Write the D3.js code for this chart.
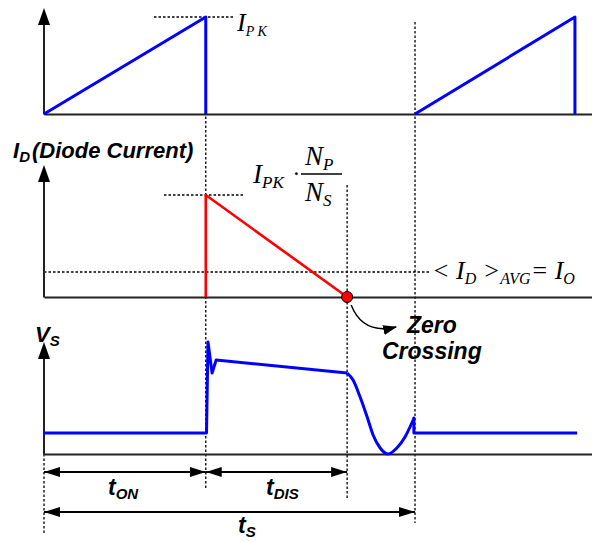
<!DOCTYPE html>
<html>
<head>
<meta charset="utf-8">
<script src="https://cdn.jsdelivr.net/npm/d3@7"></script>
<style>
  body { margin: 0; background: #fff; }
  svg { display: block; }
  .sans { font-family: "Liberation Sans", Arial, sans-serif; font-weight: bold; font-style: italic; }
  .serif { font-family: "Liberation Serif", "Times New Roman", serif; font-style: italic; }
</style>
</head>
<body>
<svg id="chart" width="592" height="542"></svg>
<script>
// time instants, in units where t_S = 10
var tOn = 4.36, tOff = 8.17, tS = 10, tEnd = 14.77;

// primary current (normalised to I_PK), two switching cycles
var ipTime1 = [0, 4.36, 4.36];
var ipVal1 = [0, 1, 0];
var ipTime2 = [10, 14.31, 14.31];
var ipVal2 = [0, 1, 0];

// diode current (normalised to I_PK*Np/Ns) and its average
var idTime = [4.36, 4.36, 8.17];
var idVal = [0, 1, 0];
var idAvg = 0.245;

// switch voltage: off level, turn-off spike and plateau
var vsTime = [0, 4.38, 4.42, 4.53, 4.64, 8.17];
var vsVal = [0.21, 0.21, 1.12, 0.81, 0.94, 0.81];
// ringing after the diode current reaches zero
var ringTime = [8.17, 8.33, 8.52, 8.71, 8.87, 9.06, 9.27, 9.51, 9.73, 9.95];
var ringVal = [0.81, 0.74, 0.57, 0.37, 0.19, 0.06, 0.0, 0.06, 0.17, 0.34];
// next turn-on and following off level
var tailTime = [9.95, 9.97, 9.97, 14.37];
var tailVal = [0.34, 0.36, 0.21, 0.21];

// dimension arrows: [from, to] in time
var dimRow1 = [[0, tOn], [tOn, tOff]];
var dimRow2 = [[0, tS]];

var svg = d3.select("#chart");
svg.append("rect").attr("width", 592).attr("height", 542).attr("fill", "#fff");

var x = d3.scaleLinear().domain([0, tEnd]).range([44, 592]);
var y1 = d3.scaleLinear().domain([0, 1]).range([114, 17]);
var y2 = d3.scaleLinear().domain([0, 1]).range([297, 195]);
var y3 = d3.scaleLinear().domain([0, 1]).range([454, 354]);

function pairs(ts, vs) { return ts.map(function (t, i) { return [t, vs[i]]; }); }

var defs = svg.append("defs");
defs.append("marker")
    .attr("id", "dimArrow")
    .attr("markerUnits", "userSpaceOnUse")
    .attr("markerWidth", 16).attr("markerHeight", 10)
    .attr("refX", 16).attr("refY", 5)
    .attr("orient", "auto-start-reverse")
    .append("path").attr("d", "M0,0L16,5L0,10Z").attr("fill", "#000");
defs.append("marker")
    .attr("id", "noteArrow")
    .attr("markerUnits", "userSpaceOnUse")
    .attr("markerWidth", 14).attr("markerHeight", 10)
    .attr("refX", 13).attr("refY", 5)
    .attr("orient", "auto")
    .append("path").attr("d", "M0,0L14,5L0,10Z").attr("fill", "#000");

// dotted guide lines
var dots = svg.append("g")
    .attr("stroke", "#000")
    .attr("stroke-width", 1.3)
    .attr("stroke-dasharray", "2.5,2")
    .attr("fill", "none");
function dotted(x0, y0, x1, y1_) {
    dots.append("line").attr("x1", x0).attr("y1", y0).attr("x2", x1).attr("y2", y1_);
}
dotted(154, y1(1), 234, y1(1));
dotted(164, y2(1), 245, y2(1));
dotted(x(0), y2(idAvg), 430, y2(idAvg));
dotted(x(tOn), 94, x(tOn), 489);
dotted(x(tOff), 185, x(tOff), 498);
dotted(x(tS), 22, x(tS), 523);
dotted(x(0), y3(0), x(0), 533);

// axes
function drawAxes(yScale, tipY) {
    var base = yScale(0);
    svg.append("g")
        .attr("transform", "translate(0," + base + ")")
        .call(d3.axisBottom(x).tickValues([]).tickSizeOuter(0))
        .select(".domain").attr("stroke", "#222").attr("stroke-width", 2);
    var ya = yScale.copy().domain([0, yScale.invert(tipY + 10)]).range([base, tipY + 10]);
    svg.append("g")
        .attr("transform", "translate(" + (x(0) - 0.5) + ",0)")
        .call(d3.axisLeft(ya).tickValues([]).tickSizeOuter(0))
        .select(".domain").attr("stroke", "#222").attr("stroke-width", 2);
    svg.append("path")
        .attr("d", "M" + x(0) + "," + tipY + "L" + (x(0) + 6) + "," + (tipY + 17) + "L" + (x(0) - 6) + "," + (tipY + 17) + "Z")
        .attr("fill", "#000");
}
drawAxes(y1, 8);
drawAxes(y2, 165);
drawAxes(y3, 342);

// waveforms
function lineFor(yScale, curve) {
    return d3.line()
        .x(function (d) { return x(d[0]); })
        .y(function (d) { return yScale(d[1]); })
        .curve(curve || d3.curveLinear);
}
function wave(data, yScale, color, width, curve) {
    svg.append("path")
        .datum(data)
        .attr("d", lineFor(yScale, curve))
        .attr("fill", "none")
        .attr("stroke", color)
        .attr("stroke-width", width)
        .attr("stroke-linejoin", "round");
}
wave(pairs(ipTime1, ipVal1), y1, "#0000ff", 3);
wave(pairs(ipTime2, ipVal2), y1, "#0000ff", 3);
wave(pairs(idTime, idVal), y2, "#ff0000", 2.6);
wave(pairs(vsTime, vsVal), y3, "#0000ff", 3);
wave(pairs(ringTime, ringVal), y3, "#0000ff", 3, d3.curveMonotoneX);
wave(pairs(tailTime, tailVal), y3, "#0000ff", 3);

svg.append("circle")
    .attr("cx", x(tOff)).attr("cy", y2(0)).attr("r", 5.5)
    .attr("fill", "#ff0000").attr("stroke", "#000").attr("stroke-width", 1);

// zero crossing note arrow
var zx = x(tOff), zy = y2(0);
svg.append("path")
    .attr("d", "M" + (zx + 4) + "," + (zy + 8) + "Q" + (zx + 16) + "," + (zy + 38) + " " + (zx + 49) + "," + (zy + 30))
    .attr("fill", "none").attr("stroke", "#000").attr("stroke-width", 1.4)
    .attr("marker-end", "url(#noteArrow)");

// dimension arrows
var dims = svg.append("g").attr("stroke", "#000").attr("stroke-width", 2);
dimRow1.forEach(function (d) {
    dims.append("line").attr("x1", x(d[0])).attr("x2", x(d[1])).attr("y1", 472).attr("y2", 472)
        .attr("marker-start", "url(#dimArrow)").attr("marker-end", "url(#dimArrow)");
});
dimRow2.forEach(function (d) {
    dims.append("line").attr("x1", x(d[0])).attr("x2", x(d[1])).attr("y1", 512).attr("y2", 512)
        .attr("marker-start", "url(#dimArrow)").attr("marker-end", "url(#dimArrow)");
});

// labels
function subLabel(cls, px, py, main, sub, size, subSize, dy) {
    var t = svg.append("text").attr("class", cls).attr("x", px).attr("y", py).attr("font-size", size);
    t.append("tspan").text(main);
    t.append("tspan").attr("font-size", subSize).attr("dy", dy).text(sub);
    return t;
}
subLabel("serif", 237, 31, "I", "P K", 26, 14, 5);

var lab = subLabel("sans", 13, 158, "I", "D", 22, 15, 4);
lab.append("tspan").attr("dy", -4).attr("dx", 2).text("(Diode Current)");

subLabel("serif", 253, 183, "I", "PK", 27, 17, 5);
svg.append("text").attr("class", "serif").attr("x", 293).attr("y", 181).attr("font-size", 24).text("\u00b7");
subLabel("serif", 305, 165, "N", "P", 27, 17, 5);
svg.append("line").attr("x1", 301).attr("x2", 342).attr("y1", 174).attr("y2", 174)
    .attr("stroke", "#000").attr("stroke-width", 1.3);
subLabel("serif", 305, 201, "N", "S", 27, 17, 5);

var avg = svg.append("text").attr("class", "serif").attr("x", 432).attr("y", 279).attr("font-size", 26);
avg.append("tspan").text("< I");
avg.append("tspan").attr("font-size", 16).attr("dy", 5).text("D");
avg.append("tspan").attr("dy", -5).text(" >");
avg.append("tspan").attr("font-size", 16).attr("dy", 5).text("AVG");
avg.append("tspan").attr("dy", -5).text("= I");
avg.append("tspan").attr("font-size", 16).attr("dy", 5).text("O");

subLabel("sans", 35, 342, "V", "S", 22, 15, 4);

svg.append("text").attr("class", "sans").attr("x", 407).attr("y", 333).attr("font-size", 23).text("Zero");
svg.append("text").attr("class", "sans").attr("x", 382).attr("y", 359).attr("font-size", 23).text("Crossing");

subLabel("sans", 108, 495, "t", "ON", 23, 15, 4);
subLabel("sans", 266, 495, "t", "DIS", 23, 15, 4);
subLabel("sans", 238, 533, "t", "S", 23, 15, 4);
</script>
</body>
</html>
